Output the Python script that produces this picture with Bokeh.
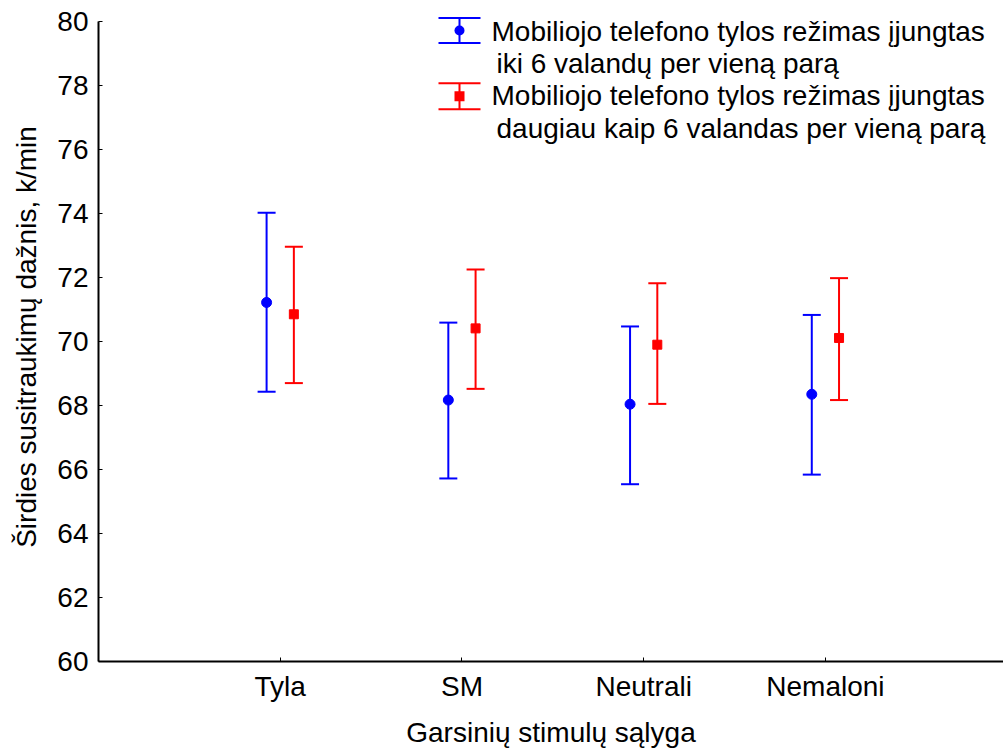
from bokeh.plotting import figure
from bokeh.models import Range1d, FixedTicker, BoxAnnotation, Label, ColumnDataSource
from bokeh.embed import file_html
from bokeh.resources import INLINE

# ---- data ----
categories = ["Tyla", "SM", "Neutrali", "Nemaloni"]
y_ticks = [60, 62, 64, 66, 68, 70, 72, 74, 76, 78, 80]

blue_mean = [71.22, 68.17, 68.04, 68.35]
blue_upper = [74.02, 70.59, 70.47, 70.83]
blue_lower = [68.43, 65.72, 65.54, 65.84]

red_mean = [70.85, 70.41, 69.90, 70.11]
red_upper = [72.96, 72.25, 71.82, 71.98]
red_lower = [68.70, 68.52, 68.05, 68.17]

legend_blue = ["Mobiliojo telefono tylos režimas įjungtas", "iki 6 valandų per vieną parą"]
legend_red = ["Mobiliojo telefono tylos režimas įjungtas", "daugiau kaip 6 valandas per vieną parą"]

# ---- layout / style ----
FONT = "Liberation Sans"
BLUE = "#0000FF"
RED = "#FF0000"
DODGE = 0.075
positions = list(range(1, len(categories) + 1))

W, H = 1003, 750
TOP, LEFT, BOTTOM = 12, 98, 89
FH = H - TOP - BOTTOM   # 649 px frame height

p = figure(width=W, height=H,
           x_range=Range1d(0, 4.98), y_range=Range1d(60, 80.281),
           output_backend="svg", toolbar_location=None,
           min_border_left=LEFT, min_border_top=TOP, min_border_right=0, min_border_bottom=BOTTOM,
           background_fill_color="white", border_fill_color="white")
p.outline_line_color = None
p.xgrid.visible = False
p.ygrid.visible = False

for ax in (p.xaxis[0], p.yaxis[0]):
    ax.axis_line_width = 2
    ax.axis_line_color = "black"
    ax.major_tick_in = 4
    ax.major_tick_out = 0
    ax.major_tick_line_width = 1
    ax.minor_tick_line_color = None
    ax.major_label_text_font = FONT
    ax.major_label_text_font_size = "28px"
    ax.major_label_text_color = "black"
    ax.axis_label_text_font = FONT
    ax.axis_label_text_font_size = "28px"
    ax.axis_label_text_font_style = "normal"
    ax.axis_label_text_color = "black"

p.xaxis.ticker = FixedTicker(ticks=positions)
p.xaxis.major_label_overrides = {pos: c for pos, c in zip(positions, categories)}
p.xaxis.major_label_standoff = 9
p.xaxis.axis_label = "Garsinių stimulų sąlyga"
p.xaxis.axis_label_standoff = 12

p.yaxis.ticker = FixedTicker(ticks=y_ticks)
p.yaxis.bounds = (y_ticks[0], y_ticks[-1])
p.yaxis.major_label_standoff = 10
p.yaxis.axis_label = "Širdies susitraukimų dažnis, k/min"
p.yaxis.axis_label_standoff = 12


def draw_series(mean, upper, lower, offset, color, marker):
    xs = [x + offset for x in positions]
    src = ColumnDataSource(dict(x=xs, mean=mean, upper=upper, lower=lower))
    p.segment(x0="x", y0="lower", x1="x", y1="upper", source=src, line_color=color, line_width=2)
    p.scatter(x="x", y="upper", source=src, marker="dash", size=18, line_color=color, line_width=2)
    p.scatter(x="x", y="lower", source=src, marker="dash", size=18, line_color=color, line_width=2)
    p.scatter(x="x", y="mean", source=src, marker=marker, size=10 if marker == "circle" else 9,
              fill_color=color, line_color=color)


draw_series(blue_mean, blue_upper, blue_lower, -DODGE, BLUE, "circle")
draw_series(red_mean, red_upper, red_lower, DODGE, RED, "square")


# ---- manual legend (screen units; positions measured from the frame's top-left) ----
def sbox(left, right, top, bottom, color, radius=0):
    b = BoxAnnotation(left=left, right=right, top=FH - top, bottom=FH - bottom,
                      left_units="screen", right_units="screen",
                      top_units="screen", bottom_units="screen",
                      fill_color=color, fill_alpha=1.0, line_color=None,
                      border_radius=radius, level="overlay")
    p.add_layout(b)


def legend_glyph(cx, ytop, ybot, color, round_marker):
    sbox(cx - 21, cx + 21, ytop - 1, ytop + 1, color)
    sbox(cx - 21, cx + 21, ybot - 1, ybot + 1, color)
    sbox(cx - 1, cx + 1, ytop, ybot, color)
    ym = (ytop + ybot) / 2
    sbox(cx - 5, cx + 5, ym - 5, ym + 5, color, radius=5 if round_marker else 0)


legend_glyph(361, 5.5, 30.5, BLUE, True)
legend_glyph(361, 70.7, 96.7, RED, False)

text_lines = [(legend_blue[0], 393, 18.5), (legend_blue[1], 398, 50.9),
              (legend_red[0], 393, 83.3), (legend_red[1], 398, 115.7)]
for txt, lx, ly in text_lines:
    p.add_layout(Label(x=lx, y=FH - ly, x_units="screen", y_units="screen", text=txt,
                       text_font=FONT, text_font_size="28px", text_color="black",
                       text_align="left", text_baseline="middle"))

open("out.html", "w").write(file_html(p, INLINE))
